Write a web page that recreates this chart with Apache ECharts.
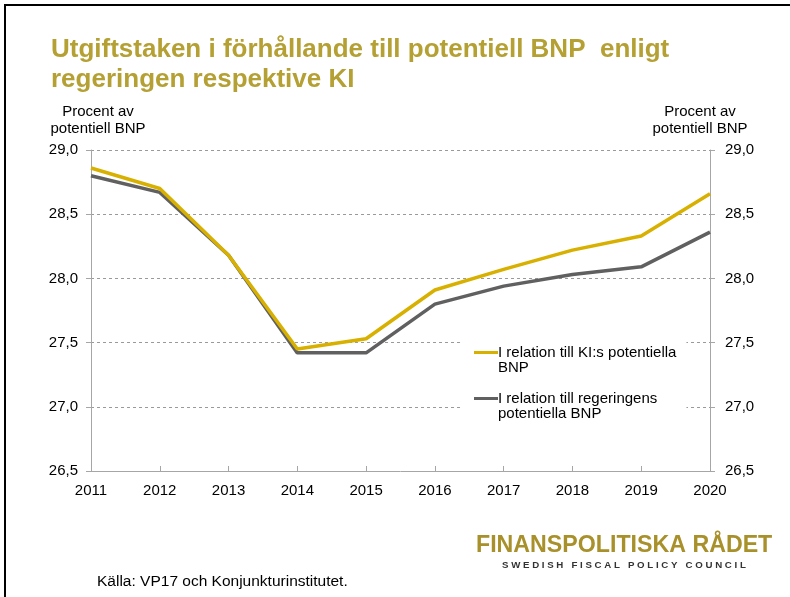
<!DOCTYPE html>
<html>
<head>
<meta charset="utf-8">
<script src="https://cdn.jsdelivr.net/npm/echarts@6/dist/echarts.min.js"></script>
<style>
  html, body { margin: 0; padding: 0; background: #fff; }
  #chart { width: 790px; height: 597px; }
</style>
</head>
<body>
<div id="chart"></div>
<script>
var years = ['2011', '2012', '2013', '2014', '2015', '2016', '2017', '2018', '2019', '2020'];
var kiValues = [28.86, 28.70, 28.18, 27.45, 27.53, 27.91, 28.07, 28.22, 28.33, 28.66];
var govValues = [28.80, 28.67, 28.18, 27.42, 27.42, 27.80, 27.94, 28.03, 28.09, 28.36];
var seriesNames = ['I relation till KI:s potentiella\nBNP', 'I relation till regeringens\npotentiella BNP'];

var font = 'Liberation Sans, Arial, sans-serif';
var gold = '#d8b000';
var grey = '#606060';

function yAxisFor(pos) {
    return {
        type: 'value',
        position: pos,
        min: 26.5,
        max: 29,
        interval: 0.5,
        name: 'Procent av\npotentiell BNP',
        nameLocation: 'end',
        nameGap: 13,
        nameTextStyle: {
            color: '#000', fontSize: 15, fontFamily: font, lineHeight: 17, align: 'center',
            // nudge the two-line name off the axis like the original
            padding: pos === 'left' ? [0, 0, 0, 14] : [0, 20, 0, 0]
        },
        axisLine: { show: true, lineStyle: { color: '#a6a6a6', width: 1 } },
        axisTick: { show: true, length: 5, lineStyle: { color: '#a6a6a6' } },
        axisLabel: {
            color: '#000', fontSize: 15, fontFamily: font, margin: pos === 'left' ? 13 : 15,
            formatter: function (v) { return v.toFixed(1).replace('.', ','); }
        },
        splitLine: { show: pos === 'left', lineStyle: { color: '#9a9a9a', type: [3, 3], width: 1 } }
    };
}

var chart = echarts.init(document.getElementById('chart'));
chart.setOption({
    backgroundColor: '#fff',
    animation: false,
    title: {
        text: 'Utgiftstaken i förhållande till potentiell BNP  enligt\nregeringen respektive KI',
        left: 51,
        top: 35,
        padding: 0,
        textStyle: { color: '#b5a033', fontSize: 26, fontWeight: 'bold', fontFamily: font, lineHeight: 30 }
    },
    grid: { left: 91, right: 80, top: 150, bottom: 126, containLabel: false },
    legend: {
        orient: 'vertical',
        left: 463,
        top: 320,
        padding: [10, 10, 10, 11],
        backgroundColor: '#fff',
        itemWidth: 24,
        itemHeight: 3,
        itemGap: 1,
        icon: 'rect',
        // blank leading line keeps the marker level with the first text line
        formatter: function (name) { return '\n' + name; },
        textStyle: { color: '#000', fontSize: 15, fontFamily: font, lineHeight: 15, padding: [0, 0, 0, -5] },
        data: seriesNames
    },
    xAxis: {
        type: 'category',
        data: years,
        boundaryGap: false,
        axisLine: { lineStyle: { color: '#a6a6a6' } },
        axisTick: { inside: true, length: 5, lineStyle: { color: '#a6a6a6' } },
        axisLabel: { color: '#000', fontSize: 15, fontFamily: font, margin: 12 }
    },
    yAxis: [yAxisFor('left'), yAxisFor('right')],
    series: [
        {
            name: seriesNames[0],
            type: 'line',
            data: kiValues,
            symbol: 'none',
            z: 3,
            lineStyle: { color: gold, width: 3.5 },
            itemStyle: { color: gold }
        },
        {
            name: seriesNames[1],
            type: 'line',
            data: govValues,
            symbol: 'none',
            z: 2,
            lineStyle: { color: grey, width: 3.5 },
            itemStyle: { color: grey }
        }
    ],
    graphic: [
        {
            type: 'rect',
            shape: { x: 5, y: 5, width: 900, height: 700 },
            style: { fill: 'none', stroke: '#000', lineWidth: 2 },
            silent: true
        },
        {
            type: 'text',
            left: 97,
            top: 574,
            style: { text: 'Källa: VP17 och Konjunkturinstitutet.', fill: '#000', fontSize: 15.5, fontFamily: font }
        },
        {
            type: 'text',
            left: 476,
            top: 534,
            style: { text: 'FINANSPOLITISKA RÅDET', fill: '#a8902a', fontSize: 23.2, fontWeight: 'bold', fontFamily: font }
        },
        {
            type: 'text',
            left: 502,
            top: 560,
            style: { text: 'S W E D I S H   F I S C A L   P O L I C Y   C O U N C I L', fill: '#333', fontSize: 9.7, fontWeight: 'bold', fontFamily: font }
        }
    ]
});
</script>
</body>
</html>
